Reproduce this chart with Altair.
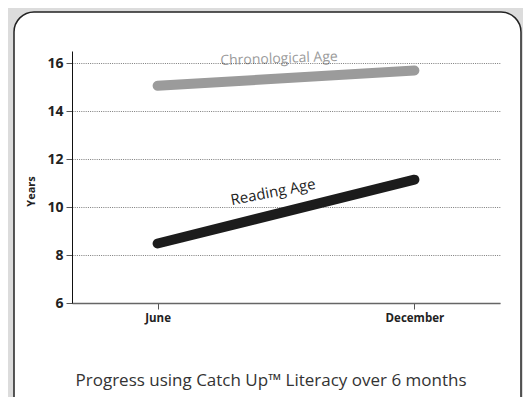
import altair as alt
import pandas as pd

# ---- data ----
series = ["Chronological Age", "Reading Age"]
months = ["June", "December"]
month_offset = [0, 6]          # months elapsed since June
chronological_age = [15.05, 15.69]
reading_age = [8.48, 11.14]
series_colors = ["#9b9b9b", "#1c1c1c"]

caption = "Progress using Catch Up\u2122 Literacy over 6 months"

rows = []
for s, vals in zip(series, [chronological_age, reading_age]):
    for m, o, v in zip(months, month_offset, vals):
        rows.append({"series": s, "month": m, "offset": o, "years": v})
df = pd.DataFrame(rows)

# label placement along each line (data units)
labels = pd.DataFrame({
    "series": series,
    "offset": [2.84, 2.72],
    "years": [16.0, 10.42],
    "angle": [358, 349],
    "size": [14, 15],
})

W, H = 428, 252
FONT = "Open Sans"

x_scale = alt.Scale(domain=[-2, 8], nice=False, zero=False)
y_scale = alt.Scale(domain=[6, 16.5], nice=False, zero=False)
color_scale = alt.Scale(domain=series, range=series_colors)

box = alt.Chart(pd.DataFrame({"k": [0]})).mark_rect(
    fill="white", stroke="#222222", strokeWidth=1.5, cornerRadius=20
).encode(
    x=alt.value(-58), x2=alt.value(449), y=alt.value(-39), y2=alt.value(420)
)

lines = alt.Chart(df).mark_line(strokeWidth=10, strokeCap="round").encode(
    x=alt.X("offset:Q", scale=x_scale, axis=alt.Axis(
        values=month_offset, title=None, grid=False,
        labelExpr="datum.value == 0 ? 'June' : 'December'",
        labelFont=FONT, labelFontWeight="bold", labelFontSize=11.5,
        labelColor="#222222", labelPadding=3,
        domainColor="#666666", domainWidth=1.5,
        tickColor="#555555", tickSize=6, zindex=1)),
    y=alt.Y("years:Q", scale=y_scale, axis=alt.Axis(
        values=[6, 8, 10, 12, 14, 16], title="Years",
        titleFont=FONT, titleFontWeight="bold", titleFontSize=11,
        titleColor="#222222", titleX=-36, titleY=140, titleAngle=270,
        titleAlign="center", titleBaseline="bottom",
        labelFont=FONT, labelFontWeight="bold", labelFontSize=14,
        labelColor="#222222", labelPadding=3,
        domainColor="#111111", domainWidth=1,
        tickColor="#555555", tickSize=6,
        grid=True, gridColor="#222222", gridDash=[1, 1.2], gridWidth=0.6,
        zindex=1)),
    color=alt.Color("series:N", scale=color_scale, legend=None),
    detail="series:N",
)

texts = alt.Chart(labels).mark_text(
    font=FONT, align="center", baseline="alphabetic"
).encode(
    x=alt.X("offset:Q", scale=x_scale),
    y=alt.Y("years:Q", scale=y_scale),
    text="series:N",
    angle=alt.Angle("angle:Q", scale=None),
    size=alt.Size("size:Q", scale=None, legend=None),
    color=alt.Color("series:N", scale=color_scale, legend=None),
)

caption_text = alt.Chart(pd.DataFrame({"caption": [caption]})).mark_text(
    font=FONT, fontSize=17, color="#333333", align="center",
    baseline="alphabetic"
).encode(
    text="caption:N", x=alt.value(199), y=alt.value(335)
)

chart = alt.layer(box, lines, texts, caption_text).properties(
    width=W, height=H,
    autosize=alt.AutoSizeParams(type="none"),
    padding={"left": 64, "top": 43, "right": 23, "bottom": 94},
    background="#dcdcdc",
).configure_view(stroke=None)

chart.save("out.html", embed_options={"renderer": "svg", "actions": False})
